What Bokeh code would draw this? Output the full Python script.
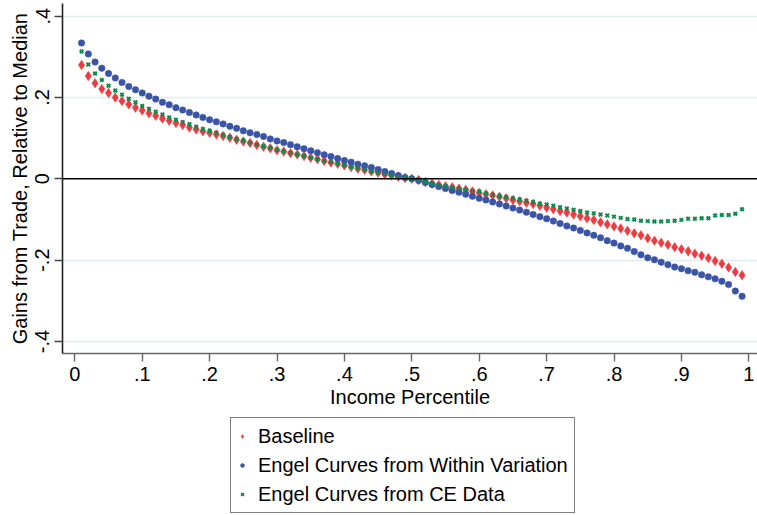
from bokeh.plotting import figure
from bokeh.layouts import column
from bokeh.models import Range1d, FixedTicker, Span, Legend, LegendItem
from bokeh.embed import file_html
from bokeh.resources import INLINE

# Income percentiles 0.01 ... 0.99
percentile = [round(0.01 * k, 2) for k in range(1, 100)]

baseline = [
    0.280, 0.253, 0.235, 0.221, 0.211, 0.200, 0.191, 0.183, 0.175, 0.168,
    0.161, 0.155, 0.148, 0.143, 0.137, 0.132, 0.126, 0.121, 0.117, 0.113,
    0.109, 0.105, 0.101, 0.096, 0.092, 0.088, 0.083, 0.079, 0.075, 0.070,
    0.067, 0.063, 0.060, 0.056, 0.052, 0.048, 0.044, 0.040, 0.037, 0.033,
    0.029, 0.025, 0.022, 0.018, 0.015, 0.011, 0.008, 0.005, 0.002, 0.000,
    -0.003, -0.008, -0.012, -0.015, -0.018, -0.021, -0.024, -0.027, -0.031, -0.035,
    -0.038, -0.041, -0.044, -0.048, -0.052, -0.055, -0.059, -0.062, -0.066, -0.071,
    -0.075, -0.079, -0.083, -0.088, -0.092, -0.097, -0.101, -0.107, -0.112, -0.117,
    -0.122, -0.128, -0.134, -0.139, -0.146, -0.152, -0.157, -0.162, -0.168, -0.173,
    -0.178, -0.184, -0.189, -0.195, -0.202, -0.209, -0.218, -0.229, -0.237,
]

within_variation = [
    0.334, 0.307, 0.287, 0.272, 0.259, 0.248, 0.237, 0.227, 0.219, 0.211,
    0.203, 0.196, 0.188, 0.182, 0.175, 0.169, 0.163, 0.157, 0.151, 0.145,
    0.140, 0.135, 0.129, 0.124, 0.118, 0.113, 0.109, 0.104, 0.098, 0.093,
    0.089, 0.084, 0.079, 0.074, 0.069, 0.064, 0.059, 0.055, 0.050, 0.045,
    0.041, 0.036, 0.032, 0.028, 0.023, 0.018, 0.013, 0.008, 0.003, 0.000,
    -0.004, -0.009, -0.014, -0.019, -0.024, -0.029, -0.033, -0.038, -0.043, -0.048,
    -0.052, -0.057, -0.062, -0.067, -0.072, -0.077, -0.082, -0.088, -0.093, -0.098,
    -0.104, -0.110, -0.116, -0.121, -0.127, -0.133, -0.139, -0.145, -0.152, -0.158,
    -0.165, -0.171, -0.179, -0.187, -0.194, -0.199, -0.205, -0.211, -0.217, -0.221,
    -0.226, -0.230, -0.236, -0.241, -0.246, -0.252, -0.260, -0.276, -0.289,
]

ce_data = [
    0.313, 0.281, 0.259, 0.243, 0.229, 0.217, 0.207, 0.197, 0.188, 0.179,
    0.172, 0.165, 0.158, 0.151, 0.145, 0.139, 0.134, 0.128, 0.122, 0.118,
    0.113, 0.108, 0.103, 0.098, 0.094, 0.089, 0.084, 0.080, 0.076, 0.071,
    0.068, 0.064, 0.060, 0.056, 0.052, 0.048, 0.044, 0.041, 0.037, 0.033,
    0.029, 0.026, 0.022, 0.018, 0.015, 0.011, 0.008, 0.005, 0.002, 0.000,
    -0.003, -0.008, -0.011, -0.015, -0.018, -0.021, -0.024, -0.027, -0.029, -0.031,
    -0.036, -0.039, -0.043, -0.045, -0.048, -0.051, -0.054, -0.057, -0.061, -0.063,
    -0.066, -0.070, -0.073, -0.076, -0.079, -0.083, -0.085, -0.088, -0.090, -0.093,
    -0.096, -0.099, -0.100, -0.103, -0.104, -0.105, -0.105, -0.104, -0.103, -0.101,
    -0.098, -0.098, -0.097, -0.097, -0.090, -0.089, -0.089, -0.086, -0.075,
]

series_labels = ["Baseline", "Engel Curves from Within Variation", "Engel Curves from CE Data"]

x_ticks = [0, 0.1, 0.2, 0.3, 0.4, 0.5, 0.6, 0.7, 0.8, 0.9, 1]
x_tick_labels = ["0", ".1", ".2", ".3", ".4", ".5", ".6", ".7", ".8", ".9", "1"]
y_ticks = [-0.4, -0.2, 0, 0.2, 0.4]
y_tick_labels = ["-.4", "-.2", "0", ".2", ".4"]

FONT = "Liberation Sans"
RED = "#ec3b41"
BLUE = "#3a55a6"
GREEN = "#0b8c4c"

STYLES = [
    dict(marker="diamond", size=9.5, fill_color=RED, line_color=RED, line_width=0.5),
    dict(marker="circle", size=6.5, fill_color=BLUE, line_color=BLUE, line_width=0.5),
    dict(marker="x", size=5, line_color=GREEN, line_width=2),
]
# smaller symbols for the legend keys
KEY_STYLES = [
    dict(marker="diamond", size=7, fill_color=RED, line_color=RED, line_width=0.5),
    dict(marker="circle", size=5, fill_color=BLUE, line_color=BLUE, line_width=0.5),
    dict(marker="x", size=4, line_color=GREEN, line_width=1.6),
]

# ---- main chart -------------------------------------------------------------
p = figure(
    width=757, height=415,
    x_range=Range1d(-0.0183, 1.0129),
    y_range=Range1d(-0.4295, 0.431),
    output_backend="svg", toolbar_location=None,
    min_border_left=62, min_border_right=0,
    min_border_top=3, min_border_bottom=62,
)
p.outline_line_color = None
p.background_fill_color = "white"
p.border_fill_color = "white"

p.xaxis.ticker = FixedTicker(ticks=x_ticks)
p.xaxis.major_label_overrides = dict(zip(x_ticks, x_tick_labels))
p.yaxis.ticker = FixedTicker(ticks=y_ticks)
p.yaxis.major_label_overrides = dict(zip(y_ticks, y_tick_labels))
p.yaxis.major_label_orientation = "vertical"
p.xaxis.axis_label = "Income Percentile"
p.yaxis.axis_label = "Gains from Trade, Relative to Median"

for ax in (p.xaxis, p.yaxis):
    ax.major_label_text_font = FONT
    ax.major_label_text_font_size = "20px"
    ax.major_label_text_color = "black"
    ax.axis_label_text_font = FONT
    ax.axis_label_text_font_size = "20px"
    ax.axis_label_text_font_style = "normal"
    ax.axis_label_text_color = "black"
    ax.major_tick_out = 8
    ax.major_tick_in = 0
    ax.minor_tick_line_color = None
    ax.axis_line_width = 1.6
    ax.major_tick_line_width = 1.4
p.xaxis.axis_line_color = "#666666"
p.xaxis.major_tick_line_color = "#666666"
p.yaxis.axis_line_color = "#222222"
p.yaxis.major_tick_line_color = "#444444"
p.xaxis.major_label_standoff = 5
p.xaxis.axis_label_standoff = 2
p.yaxis.major_label_standoff = 5
p.yaxis.axis_label_standoff = 2

p.xgrid.grid_line_color = None
p.ygrid.grid_line_color = "#e0eef1"
p.ygrid.grid_line_width = 1.5

p.add_layout(Span(location=0, dimension="width", line_color="black", line_width=1.6))

for values, style in zip([baseline, within_variation, ce_data], STYLES):
    p.scatter(percentile, values, **style)

# ---- legend panel underneath --------------------------------------------------
lg = figure(
    width=757, height=100,
    x_range=Range1d(0, 1), y_range=Range1d(0, 1),
    x_axis_type=None, y_axis_type=None,
    output_backend="svg", toolbar_location=None,
    min_border_left=0, min_border_right=0, min_border_top=0, min_border_bottom=0,
)
lg.outline_line_color = None
lg.grid.grid_line_color = None
lg.border_fill_color = "white"

# legend keys: one off-screen point each, so the key symbols get drawn
keys = [lg.scatter([-5], [-5], **style) for style in KEY_STYLES]

legend = Legend(
    items=[LegendItem(label=lab, renderers=[r]) for lab, r in zip(series_labels, keys)],
    location=(168, 2),
    orientation="vertical",
    label_text_font=FONT,
    label_text_font_size="20px",
    label_text_color="black",
    border_line_color="black",
    border_line_width=1.5,
    background_fill_color="white",
    background_fill_alpha=1,
    padding=6,
    spacing=5,
    glyph_width=10,
    glyph_height=24,
    label_height=24,
    label_standoff=11,
    margin=0,
)
lg.add_layout(legend, "center")

layout = column(p, lg, spacing=0)
open("out.html", "w").write(file_html(layout, INLINE))
